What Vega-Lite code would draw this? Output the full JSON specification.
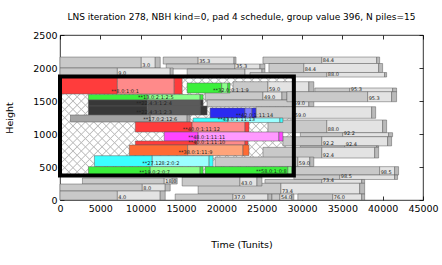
{
"$schema":"https://vega.github.io/schema/vega-lite/v6.json",
"width":363,"height":165,
"autosize":{"type":"none"},
"padding":{"left":60,"top":35,"right":19,"bottom":65},
"title":{"text":"LNS iteration 278, NBH kind=0, pad 4 schedule, group value 396, N piles=15","font":"DejaVu Sans","fontSize":9,"fontWeight":"normal","color":"#000","offset":8,"anchor":"middle"},
"config":{"view":{"stroke":"#000","strokeWidth":0.8},"axis":{"labelFlush":false,"labelOverlap":false}},
"datasets":{
"box":[{"x0":0,"x1":28991,"y0":371,"y1":1871}],
"bars":[
{"a":0,"b":10076,"y":2000,"v":2166,"c":"g1"},{"a":10076,"b":11807,"y":2000,"v":2166,"c":"g2"},{"a":11807,"b":12425,"y":2000,"v":2166,"c":"g3"},
{"a":12796,"b":17123,"y":2060,"v":2166,"c":"g1"},{"a":17123,"b":21573,"y":2060,"v":2166,"c":"g2"},{"a":21573,"b":21821,"y":2060,"v":2166,"c":"g3"},
{"a":13166,"b":21697,"y":1985,"v":2060,"c":"g1"},{"a":21697,"b":24788,"y":1985,"v":2060,"c":"g2"},{"a":24788,"b":25406,"y":1985,"v":2060,"c":"g3"},
{"a":25159,"b":32453,"y":2068,"v":2166,"c":"g1"},{"a":32453,"b":39253,"y":2068,"v":2166,"c":"g2"},{"a":39253,"b":39623,"y":2068,"v":2166,"c":"g3"},
{"a":25900,"b":30228,"y":1932,"v":2068,"c":"g1"},{"a":30228,"b":39500,"y":1932,"v":2068,"c":"g2"},{"a":39500,"b":39994,"y":1932,"v":2068,"c":"g3"},
{"a":0,"b":7109,"y":1879,"v":2000,"c":"g1"},{"a":7109,"b":13661,"y":1879,"v":2000,"c":"g2"},{"a":13661,"b":14032,"y":1879,"v":2000,"c":"g3"},
{"a":15763,"b":22933,"y":1863,"v":1985,"c":"g1"},{"a":22933,"b":25035,"y":1863,"v":1985,"c":"g2"},{"a":25035,"b":25406,"y":1863,"v":1985,"c":"g3"},
{"a":23551,"b":33071,"y":1863,"v":1932,"c":"g1"},{"a":33071,"b":40242,"y":1863,"v":1932,"c":"g2"},{"a":40242,"b":40489,"y":1863,"v":1932,"c":"g3"},
{"a":21450,"b":25777,"y":1636,"v":1792,"c":"g1"},{"a":25777,"b":30846,"y":1636,"v":1792,"c":"g2"},{"a":30846,"b":31464,"y":1636,"v":1792,"c":"g3"},
{"a":17988,"b":25159,"y":1515,"v":1636,"c":"g1"},{"a":25159,"b":27508,"y":1515,"v":1636,"c":"g2"},{"a":27508,"b":28126,"y":1515,"v":1636,"c":"g3"},
{"a":18235,"b":28868,"y":1413,"v":1515,"c":"g1"},{"a":28868,"b":30846,"y":1413,"v":1515,"c":"g2"},{"a":30846,"b":31464,"y":1413,"v":1515,"c":"g3"},
{"a":31588,"b":35915,"y":1636,"v":1697,"c":"g1"},{"a":35915,"b":41232,"y":1636,"v":1697,"c":"g2"},{"a":41232,"b":41725,"y":1636,"v":1697,"c":"g3"},
{"a":28126,"b":38140,"y":1489,"v":1641,"c":"g1"},{"a":38140,"b":41107,"y":1489,"v":1641,"c":"g2"},{"a":41107,"b":41725,"y":1489,"v":1641,"c":"g3"},
{"a":24293,"b":28991,"y":1238,"v":1413,"c":"g1"},{"a":28991,"b":38634,"y":1238,"v":1413,"c":"g2"},{"a":38634,"b":39129,"y":1238,"v":1413,"c":"g3"},
{"a":25777,"b":33071,"y":1020,"v":1212,"c":"g1"},{"a":33071,"b":39994,"y":1020,"v":1212,"c":"g2"},{"a":39994,"b":40489,"y":1020,"v":1212,"c":"g3"},
{"a":29795,"b":35049,"y":959,"v":1020,"c":"g1"},{"a":35049,"b":40736,"y":959,"v":1020,"c":"g2"},{"a":40736,"b":41232,"y":959,"v":1020,"c":"g3"},
{"a":27631,"b":32453,"y":820,"v":959,"c":"g1"},{"a":32453,"b":40612,"y":820,"v":959,"c":"g2"},{"a":40612,"b":41107,"y":820,"v":959,"c":"g3"},
{"a":29795,"b":35296,"y":798,"v":820,"c":"g1"},{"a":35296,"b":39253,"y":798,"v":820,"c":"g2"},{"a":39253,"b":39500,"y":798,"v":820,"c":"g3"},
{"a":25159,"b":32453,"y":636,"v":798,"c":"g1"},{"a":32453,"b":39006,"y":636,"v":798,"c":"g2"},{"a":39006,"b":39500,"y":636,"v":798,"c":"g3"},
{"a":19224,"b":29486,"y":508,"v":651,"c":"g1"},{"a":29486,"b":30969,"y":508,"v":651,"c":"g2"},{"a":30969,"b":31464,"y":508,"v":651,"c":"g3"},
{"a":28991,"b":39623,"y":379,"v":505,"c":"g1"},{"a":39623,"b":41480,"y":379,"v":505,"c":"g2"},{"a":41480,"b":41973,"y":379,"v":505,"c":"g3"},
{"a":28991,"b":34678,"y":311,"v":379,"c":"g1"},{"a":34678,"b":41480,"y":311,"v":379,"c":"g2"},{"a":41480,"b":41850,"y":311,"v":379,"c":"g3"},
{"a":25406,"b":32453,"y":253,"v":311,"c":"g1"},{"a":32453,"b":37398,"y":253,"v":311,"c":"g2"},{"a":37398,"b":37769,"y":253,"v":311,"c":"g3"},
{"a":17123,"b":27384,"y":91,"v":253,"c":"g1"},{"a":27384,"b":37151,"y":91,"v":253,"c":"g2"},{"a":37151,"b":37769,"y":91,"v":253,"c":"g3"},
{"a":15145,"b":22315,"y":212,"v":348,"c":"g1"},{"a":22315,"b":24417,"y":212,"v":348,"c":"g2"},{"a":24417,"b":25035,"y":212,"v":348,"c":"g3"},
{"a":2782,"b":12919,"y":242,"v":333,"c":"g1"},{"a":12919,"b":13908,"y":242,"v":333,"c":"g2"},{"a":13908,"b":14527,"y":242,"v":333,"c":"g3"},
{"a":0,"b":10199,"y":136,"v":242,"c":"g1"},{"a":10199,"b":13043,"y":136,"v":242,"c":"g2"},{"a":13043,"b":13661,"y":136,"v":242,"c":"g3"},
{"a":0,"b":7109,"y":0,"v":136,"c":"g1"},{"a":7109,"b":12425,"y":0,"v":136,"c":"g2"},{"a":12425,"b":13043,"y":0,"v":136,"c":"g3"},
{"a":14279,"b":21450,"y":0,"v":91,"c":"g1"},{"a":21450,"b":25777,"y":0,"v":91,"c":"g2"},{"a":25777,"b":26271,"y":0,"v":91,"c":"g3"},
{"a":26271,"b":27260,"y":0,"v":91,"c":"g1"},{"a":27260,"b":28744,"y":0,"v":91,"c":"g2"},{"a":28744,"b":28991,"y":0,"v":91,"c":"g3"},
{"a":29486,"b":33813,"y":0,"v":91,"c":"g1"},{"a":33813,"b":37398,"y":0,"v":91,"c":"g2"},{"a":37398,"b":37769,"y":0,"v":91,"c":"g3"},
{"a":0,"b":7109,"y":1606,"v":1863,"c":"r1"},{"a":7109,"b":14156,"y":1606,"v":1863,"c":"r2"},{"a":14156,"b":15145,"y":1606,"v":1863,"c":"r1"},
{"a":15763,"b":20053,"y":1621,"v":1773,"c":"n1"},{"a":20053,"b":20800,"y":1621,"v":1773,"c":"n2"},{"a":20800,"b":21079,"y":1621,"v":1773,"c":"n1"},
{"a":3523,"b":10818,"y":1515,"v":1598,"c":"n1"},{"a":10818,"b":17370,"y":1515,"v":1598,"c":"n2"},{"a":17370,"b":17741,"y":1515,"v":1598,"c":"n1"},
{"a":3523,"b":10818,"y":1424,"v":1515,"c":"k1"},{"a":10818,"b":17370,"y":1424,"v":1515,"c":"k2"},{"a":17370,"b":17741,"y":1424,"v":1515,"c":"k1"},
{"a":3523,"b":10818,"y":1288,"v":1424,"c":"k1"},{"a":10818,"b":17370,"y":1288,"v":1424,"c":"k2"},{"a":17370,"b":18235,"y":1288,"v":1424,"c":"k1"},
{"a":1298,"b":11188,"y":1182,"v":1288,"c":"m1"},{"a":11188,"b":15763,"y":1182,"v":1288,"c":"m2"},{"a":15763,"b":16134,"y":1182,"v":1288,"c":"m1"},
{"a":18606,"b":22933,"y":1242,"v":1394,"c":"b1"},{"a":22933,"b":23799,"y":1242,"v":1394,"c":"b2"},{"a":23799,"b":24293,"y":1242,"v":1394,"c":"b1"},
{"a":16505,"b":20832,"y":1174,"v":1242,"c":"c1"},{"a":20832,"b":27260,"y":1174,"v":1242,"c":"c2"},{"a":27260,"b":27631,"y":1174,"v":1242,"c":"c1"},
{"a":9334,"b":16381,"y":1030,"v":1182,"c":"r1"},{"a":16381,"b":22933,"y":1030,"v":1182,"c":"r2"},{"a":22933,"b":23428,"y":1030,"v":1182,"c":"r1"},
{"a":12919,"b":17123,"y":894,"v":1030,"c":"p1"},{"a":17123,"b":27137,"y":894,"v":1030,"c":"p2"},{"a":27137,"b":27631,"y":894,"v":1030,"c":"p1"},
{"a":9334,"b":16999,"y":833,"v":894,"c":"r1"},{"a":16999,"b":22933,"y":833,"v":894,"c":"r2"},{"a":22933,"b":23304,"y":833,"v":894,"c":"r1"},
{"a":8592,"b":15825,"y":674,"v":833,"c":"o1"},{"a":15825,"b":22686,"y":674,"v":833,"c":"o2"},{"a":22686,"b":23428,"y":674,"v":833,"c":"o1"},
{"a":4265,"b":11436,"y":508,"v":671,"c":"c1"},{"a":11436,"b":18483,"y":508,"v":671,"c":"c2"},{"a":18483,"b":18977,"y":508,"v":671,"c":"c1"},
{"a":3523,"b":11188,"y":379,"v":505,"c":"n1"},{"a":11188,"b":17370,"y":379,"v":505,"c":"n2"},{"a":17370,"b":17741,"y":379,"v":505,"c":"n1"},
{"a":17988,"b":28249,"y":390,"v":505,"c":"n1"},{"a":28249,"b":28744,"y":390,"v":505,"c":"n2"},{"a":28744,"b":28991,"y":390,"v":505,"c":"n1"}
],
"labels":[
{"x":10076,"y":2000,"t":"3.0"},{"x":17123,"y":2060,"t":"35.3"},{"x":21697,"y":1985,"t":"35.3"},{"x":32453,"y":2068,"t":"84.4"},{"x":30228,"y":1932,"t":"84.4"},{"x":7109,"y":1879,"t":"9.0"},{"x":33071,"y":1863,"t":"88.0"},{"x":25777,"y":1636,"t":"59.0"},{"x":25159,"y":1515,"t":"49.0"},{"x":28868,"y":1413,"t":"59.0"},{"x":35915,"y":1636,"t":"95.3"},{"x":38140,"y":1489,"t":"95.3"},{"x":28991,"y":1238,"t":"59.0"},{"x":33071,"y":1020,"t":"88.0"},{"x":35049,"y":959,"t":"92.2"},{"x":32453,"y":820,"t":"92.2"},{"x":35296,"y":798,"t":"92.4"},{"x":32453,"y":636,"t":"92.4"},{"x":29486,"y":508,"t":"59.0"},{"x":39623,"y":379,"t":"98.5"},{"x":34678,"y":311,"t":"98.5"},{"x":32453,"y":253,"t":"73.4"},{"x":27384,"y":91,"t":"73.4"},{"x":22315,"y":212,"t":"43.0"},{"x":12919,"y":242,"t":"18.0"},{"x":10199,"y":136,"t":"8.0"},{"x":7109,"y":0,"t":"4.0"},{"x":21450,"y":0,"t":"37.0"},{"x":27260,"y":0,"t":"54.0"},{"x":33813,"y":0,"t":"76.0"},
{"x":6243,"y":1606,"t":"**8.0:1:0:1"},{"x":18853,"y":1621,"t":"**32.0:0:1:1:9"},{"x":9544,"y":1515,"t":"**13.0:2:1:2:5"},{"x":9334,"y":1424,"t":"**22.4:3:1:2:4"},{"x":9334,"y":1288,"t":"**22.4:3:1:2:3"},{"x":10199,"y":1182,"t":"**17.0:2:12:6"},{"x":21697,"y":1242,"t":"**42.0:1:11:14"},{"x":19435,"y":1174,"t":"**43.0:1:11:13"},{"x":15108,"y":1030,"t":"**40.0:1:11:12"},{"x":15763,"y":905,"t":"**48.0:1:11:11"},{"x":15763,"y":833,"t":"**40.0:1:11:10"},{"x":14564,"y":674,"t":"**38.0:1:11:9"},{"x":10076,"y":508,"t":"**27.128:2:0:2"},{"x":9705,"y":379,"t":"**19.0:2:0:7"},{"x":24170,"y":390,"t":"**58.0:1:0:8"}
]
},
"layer":[
{"data":{"name":"box"},
 "mark":{"type":"rect","fill":{"gradient":"linear","x1":0,"y1":0,"x2":1.207,"y2":0.51,"stops":[
{"offset":0.009,"color":"#fff"},{"offset":0.0125,"color":"#bcbcbc"},{"offset":0.016,"color":"#fff"},
{"offset":0.034,"color":"#fff"},{"offset":0.0375,"color":"#bcbcbc"},{"offset":0.041,"color":"#fff"},
{"offset":0.059,"color":"#fff"},{"offset":0.0625,"color":"#bcbcbc"},{"offset":0.066,"color":"#fff"},
{"offset":0.084,"color":"#fff"},{"offset":0.0875,"color":"#bcbcbc"},{"offset":0.091,"color":"#fff"},
{"offset":0.109,"color":"#fff"},{"offset":0.1125,"color":"#bcbcbc"},{"offset":0.116,"color":"#fff"},
{"offset":0.134,"color":"#fff"},{"offset":0.1375,"color":"#bcbcbc"},{"offset":0.141,"color":"#fff"},
{"offset":0.159,"color":"#fff"},{"offset":0.1625,"color":"#bcbcbc"},{"offset":0.166,"color":"#fff"},
{"offset":0.184,"color":"#fff"},{"offset":0.1875,"color":"#bcbcbc"},{"offset":0.191,"color":"#fff"},
{"offset":0.209,"color":"#fff"},{"offset":0.2125,"color":"#bcbcbc"},{"offset":0.216,"color":"#fff"},
{"offset":0.234,"color":"#fff"},{"offset":0.2375,"color":"#bcbcbc"},{"offset":0.241,"color":"#fff"},
{"offset":0.259,"color":"#fff"},{"offset":0.2625,"color":"#bcbcbc"},{"offset":0.266,"color":"#fff"},
{"offset":0.284,"color":"#fff"},{"offset":0.2875,"color":"#bcbcbc"},{"offset":0.291,"color":"#fff"},
{"offset":0.309,"color":"#fff"},{"offset":0.3125,"color":"#bcbcbc"},{"offset":0.316,"color":"#fff"},
{"offset":0.334,"color":"#fff"},{"offset":0.3375,"color":"#bcbcbc"},{"offset":0.341,"color":"#fff"},
{"offset":0.359,"color":"#fff"},{"offset":0.3625,"color":"#bcbcbc"},{"offset":0.366,"color":"#fff"},
{"offset":0.384,"color":"#fff"},{"offset":0.3875,"color":"#bcbcbc"},{"offset":0.391,"color":"#fff"},
{"offset":0.409,"color":"#fff"},{"offset":0.4125,"color":"#bcbcbc"},{"offset":0.416,"color":"#fff"},
{"offset":0.434,"color":"#fff"},{"offset":0.4375,"color":"#bcbcbc"},{"offset":0.441,"color":"#fff"},
{"offset":0.459,"color":"#fff"},{"offset":0.4625,"color":"#bcbcbc"},{"offset":0.466,"color":"#fff"},
{"offset":0.484,"color":"#fff"},{"offset":0.4875,"color":"#bcbcbc"},{"offset":0.491,"color":"#fff"},
{"offset":0.509,"color":"#fff"},{"offset":0.5125,"color":"#bcbcbc"},{"offset":0.516,"color":"#fff"},
{"offset":0.534,"color":"#fff"},{"offset":0.5375,"color":"#bcbcbc"},{"offset":0.541,"color":"#fff"},
{"offset":0.559,"color":"#fff"},{"offset":0.5625,"color":"#bcbcbc"},{"offset":0.566,"color":"#fff"},
{"offset":0.584,"color":"#fff"},{"offset":0.5875,"color":"#bcbcbc"},{"offset":0.591,"color":"#fff"},
{"offset":0.609,"color":"#fff"},{"offset":0.6125,"color":"#bcbcbc"},{"offset":0.616,"color":"#fff"},
{"offset":0.634,"color":"#fff"},{"offset":0.6375,"color":"#bcbcbc"},{"offset":0.641,"color":"#fff"},
{"offset":0.659,"color":"#fff"},{"offset":0.6625,"color":"#bcbcbc"},{"offset":0.666,"color":"#fff"},
{"offset":0.684,"color":"#fff"},{"offset":0.6875,"color":"#bcbcbc"},{"offset":0.691,"color":"#fff"},
{"offset":0.709,"color":"#fff"},{"offset":0.7125,"color":"#bcbcbc"},{"offset":0.716,"color":"#fff"},
{"offset":0.734,"color":"#fff"},{"offset":0.7375,"color":"#bcbcbc"},{"offset":0.741,"color":"#fff"},
{"offset":0.759,"color":"#fff"},{"offset":0.7625,"color":"#bcbcbc"},{"offset":0.766,"color":"#fff"},
{"offset":0.784,"color":"#fff"},{"offset":0.7875,"color":"#bcbcbc"},{"offset":0.791,"color":"#fff"},
{"offset":0.809,"color":"#fff"},{"offset":0.8125,"color":"#bcbcbc"},{"offset":0.816,"color":"#fff"},
{"offset":0.834,"color":"#fff"},{"offset":0.8375,"color":"#bcbcbc"},{"offset":0.841,"color":"#fff"},
{"offset":0.859,"color":"#fff"},{"offset":0.8625,"color":"#bcbcbc"},{"offset":0.866,"color":"#fff"},
{"offset":0.884,"color":"#fff"},{"offset":0.8875,"color":"#bcbcbc"},{"offset":0.891,"color":"#fff"},
{"offset":0.909,"color":"#fff"},{"offset":0.9125,"color":"#bcbcbc"},{"offset":0.916,"color":"#fff"},
{"offset":0.934,"color":"#fff"},{"offset":0.9375,"color":"#bcbcbc"},{"offset":0.941,"color":"#fff"},
{"offset":0.959,"color":"#fff"},{"offset":0.9625,"color":"#bcbcbc"},{"offset":0.966,"color":"#fff"},
{"offset":0.984,"color":"#fff"},{"offset":0.9875,"color":"#bcbcbc"},{"offset":0.991,"color":"#fff"}
]}},
 "encoding":{
  "x":{"field":"x0","type":"quantitative","scale":{"domain":[0,45000],"nice":false,"zero":false},
   "axis":{"orient":"bottom","values":[0,5000,10000,15000,20000,25000,30000,35000,40000,45000],"format":"d","title":"Time (Tunits)","grid":false,"domain":false,"tickSize":-4,"tickColor":"#000","tickWidth":0.8,"labelPadding":7,"labelFont":"DejaVu Sans","labelFontSize":9.5,"labelColor":"#000","titleFont":"DejaVu Sans","titleFontSize":9.5,"titleFontWeight":"normal","titleColor":"#000","titlePadding":27}},
  "x2":{"field":"x1"},
  "y":{"field":"y0","type":"quantitative","scale":{"domain":[0,2500],"nice":false,"zero":false},
   "axis":{"orient":"left","values":[0,500,1000,1500,2000,2500],"format":"d","title":"Height","grid":false,"domain":false,"tickSize":-4,"tickColor":"#000","tickWidth":0.8,"labelPadding":7,"labelFont":"DejaVu Sans","labelFontSize":9.5,"labelColor":"#000","titleFont":"DejaVu Sans","titleFontSize":9.5,"titleFontWeight":"normal","titleColor":"#000","titlePadding":18}},
  "y2":{"field":"y1"}
 }},
{"data":{"name":"box"},
 "mark":{"type":"rect","fill":{"gradient":"linear","x1":0,"y1":1,"x2":1.207,"y2":0.49,"stops":[
{"offset":0.009,"color":"rgba(188,188,188,0)"},{"offset":0.0125,"color":"#bcbcbc"},{"offset":0.016,"color":"rgba(188,188,188,0)"},
{"offset":0.034,"color":"rgba(188,188,188,0)"},{"offset":0.0375,"color":"#bcbcbc"},{"offset":0.041,"color":"rgba(188,188,188,0)"},
{"offset":0.059,"color":"rgba(188,188,188,0)"},{"offset":0.0625,"color":"#bcbcbc"},{"offset":0.066,"color":"rgba(188,188,188,0)"},
{"offset":0.084,"color":"rgba(188,188,188,0)"},{"offset":0.0875,"color":"#bcbcbc"},{"offset":0.091,"color":"rgba(188,188,188,0)"},
{"offset":0.109,"color":"rgba(188,188,188,0)"},{"offset":0.1125,"color":"#bcbcbc"},{"offset":0.116,"color":"rgba(188,188,188,0)"},
{"offset":0.134,"color":"rgba(188,188,188,0)"},{"offset":0.1375,"color":"#bcbcbc"},{"offset":0.141,"color":"rgba(188,188,188,0)"},
{"offset":0.159,"color":"rgba(188,188,188,0)"},{"offset":0.1625,"color":"#bcbcbc"},{"offset":0.166,"color":"rgba(188,188,188,0)"},
{"offset":0.184,"color":"rgba(188,188,188,0)"},{"offset":0.1875,"color":"#bcbcbc"},{"offset":0.191,"color":"rgba(188,188,188,0)"},
{"offset":0.209,"color":"rgba(188,188,188,0)"},{"offset":0.2125,"color":"#bcbcbc"},{"offset":0.216,"color":"rgba(188,188,188,0)"},
{"offset":0.234,"color":"rgba(188,188,188,0)"},{"offset":0.2375,"color":"#bcbcbc"},{"offset":0.241,"color":"rgba(188,188,188,0)"},
{"offset":0.259,"color":"rgba(188,188,188,0)"},{"offset":0.2625,"color":"#bcbcbc"},{"offset":0.266,"color":"rgba(188,188,188,0)"},
{"offset":0.284,"color":"rgba(188,188,188,0)"},{"offset":0.2875,"color":"#bcbcbc"},{"offset":0.291,"color":"rgba(188,188,188,0)"},
{"offset":0.309,"color":"rgba(188,188,188,0)"},{"offset":0.3125,"color":"#bcbcbc"},{"offset":0.316,"color":"rgba(188,188,188,0)"},
{"offset":0.334,"color":"rgba(188,188,188,0)"},{"offset":0.3375,"color":"#bcbcbc"},{"offset":0.341,"color":"rgba(188,188,188,0)"},
{"offset":0.359,"color":"rgba(188,188,188,0)"},{"offset":0.3625,"color":"#bcbcbc"},{"offset":0.366,"color":"rgba(188,188,188,0)"},
{"offset":0.384,"color":"rgba(188,188,188,0)"},{"offset":0.3875,"color":"#bcbcbc"},{"offset":0.391,"color":"rgba(188,188,188,0)"},
{"offset":0.409,"color":"rgba(188,188,188,0)"},{"offset":0.4125,"color":"#bcbcbc"},{"offset":0.416,"color":"rgba(188,188,188,0)"},
{"offset":0.434,"color":"rgba(188,188,188,0)"},{"offset":0.4375,"color":"#bcbcbc"},{"offset":0.441,"color":"rgba(188,188,188,0)"},
{"offset":0.459,"color":"rgba(188,188,188,0)"},{"offset":0.4625,"color":"#bcbcbc"},{"offset":0.466,"color":"rgba(188,188,188,0)"},
{"offset":0.484,"color":"rgba(188,188,188,0)"},{"offset":0.4875,"color":"#bcbcbc"},{"offset":0.491,"color":"rgba(188,188,188,0)"},
{"offset":0.509,"color":"rgba(188,188,188,0)"},{"offset":0.5125,"color":"#bcbcbc"},{"offset":0.516,"color":"rgba(188,188,188,0)"},
{"offset":0.534,"color":"rgba(188,188,188,0)"},{"offset":0.5375,"color":"#bcbcbc"},{"offset":0.541,"color":"rgba(188,188,188,0)"},
{"offset":0.559,"color":"rgba(188,188,188,0)"},{"offset":0.5625,"color":"#bcbcbc"},{"offset":0.566,"color":"rgba(188,188,188,0)"},
{"offset":0.584,"color":"rgba(188,188,188,0)"},{"offset":0.5875,"color":"#bcbcbc"},{"offset":0.591,"color":"rgba(188,188,188,0)"},
{"offset":0.609,"color":"rgba(188,188,188,0)"},{"offset":0.6125,"color":"#bcbcbc"},{"offset":0.616,"color":"rgba(188,188,188,0)"},
{"offset":0.634,"color":"rgba(188,188,188,0)"},{"offset":0.6375,"color":"#bcbcbc"},{"offset":0.641,"color":"rgba(188,188,188,0)"},
{"offset":0.659,"color":"rgba(188,188,188,0)"},{"offset":0.6625,"color":"#bcbcbc"},{"offset":0.666,"color":"rgba(188,188,188,0)"},
{"offset":0.684,"color":"rgba(188,188,188,0)"},{"offset":0.6875,"color":"#bcbcbc"},{"offset":0.691,"color":"rgba(188,188,188,0)"},
{"offset":0.709,"color":"rgba(188,188,188,0)"},{"offset":0.7125,"color":"#bcbcbc"},{"offset":0.716,"color":"rgba(188,188,188,0)"},
{"offset":0.734,"color":"rgba(188,188,188,0)"},{"offset":0.7375,"color":"#bcbcbc"},{"offset":0.741,"color":"rgba(188,188,188,0)"},
{"offset":0.759,"color":"rgba(188,188,188,0)"},{"offset":0.7625,"color":"#bcbcbc"},{"offset":0.766,"color":"rgba(188,188,188,0)"},
{"offset":0.784,"color":"rgba(188,188,188,0)"},{"offset":0.7875,"color":"#bcbcbc"},{"offset":0.791,"color":"rgba(188,188,188,0)"},
{"offset":0.809,"color":"rgba(188,188,188,0)"},{"offset":0.8125,"color":"#bcbcbc"},{"offset":0.816,"color":"rgba(188,188,188,0)"},
{"offset":0.834,"color":"rgba(188,188,188,0)"},{"offset":0.8375,"color":"#bcbcbc"},{"offset":0.841,"color":"rgba(188,188,188,0)"},
{"offset":0.859,"color":"rgba(188,188,188,0)"},{"offset":0.8625,"color":"#bcbcbc"},{"offset":0.866,"color":"rgba(188,188,188,0)"},
{"offset":0.884,"color":"rgba(188,188,188,0)"},{"offset":0.8875,"color":"#bcbcbc"},{"offset":0.891,"color":"rgba(188,188,188,0)"},
{"offset":0.909,"color":"rgba(188,188,188,0)"},{"offset":0.9125,"color":"#bcbcbc"},{"offset":0.916,"color":"rgba(188,188,188,0)"},
{"offset":0.934,"color":"rgba(188,188,188,0)"},{"offset":0.9375,"color":"#bcbcbc"},{"offset":0.941,"color":"rgba(188,188,188,0)"},
{"offset":0.959,"color":"rgba(188,188,188,0)"},{"offset":0.9625,"color":"#bcbcbc"},{"offset":0.966,"color":"rgba(188,188,188,0)"},
{"offset":0.984,"color":"rgba(188,188,188,0)"},{"offset":0.9875,"color":"#bcbcbc"},{"offset":0.991,"color":"rgba(188,188,188,0)"}
]}},
 "encoding":{
  "x":{"field":"x0","type":"quantitative","axis":{"orient":"top","values":[0,5000,10000,15000,20000,25000,30000,35000,40000,45000],"labels":false,"title":null,"grid":false,"domain":false,"tickSize":-4,"tickColor":"#000","tickWidth":0.8}},
  "x2":{"field":"x1"},
  "y":{"field":"y0","type":"quantitative","axis":{"orient":"right","values":[0,500,1000,1500,2000,2500],"labels":false,"title":null,"grid":false,"domain":false,"tickSize":-4,"tickColor":"#000","tickWidth":0.8}},
  "y2":{"field":"y1"}
 }},
{"data":{"name":"bars"},
 "mark":{"type":"rect","stroke":"#5a5a5a","strokeWidth":0.5},
 "encoding":{
  "x":{"field":"a","type":"quantitative","axis":null},
  "x2":{"field":"b"},
  "y":{"field":"y","type":"quantitative","axis":null},
  "y2":{"field":"v"},
  "fill":{"field":"c","type":"nominal","legend":null,"scale":{"domain":["g1","g2","g3","r1","r2","n1","n2","k1","k2","m1","m2","b1","b2","c1","c2","p1","p2","o1","o2"],"range":["#c9c9c9","#e3e3e3","#bababa","#ff3c3c","#ff8a8a","#3cf03c","#8cff8c","#383838","#5a5a5a","#a3a3a3","#c3c3c3","#2b2bf0","#7a7aff","#3cffff","#9cffff","#ff45ff","#ff99ff","#ff6b33","#ffa47a"]}}
 }},
{"data":{"name":"labels"},
 "mark":{"type":"text","align":"left","baseline":"bottom","dx":1,"dy":-0.3,"font":"DejaVu Sans","fontSize":5,"color":"#222"},
 "encoding":{
  "x":{"field":"x","type":"quantitative","axis":null},
  "y":{"field":"y","type":"quantitative","axis":null},
  "text":{"field":"t"}
 }},
{"data":{"name":"box"},
 "mark":{"type":"rect","fill":null,"stroke":"#000","strokeWidth":4},
 "encoding":{
  "x":{"field":"x0","type":"quantitative","axis":null},
  "x2":{"field":"x1"},
  "y":{"field":"y0","type":"quantitative","axis":null},
  "y2":{"field":"y1"}
 }}
],
"resolve":{"axis":{"x":"independent","y":"independent"}}
}
